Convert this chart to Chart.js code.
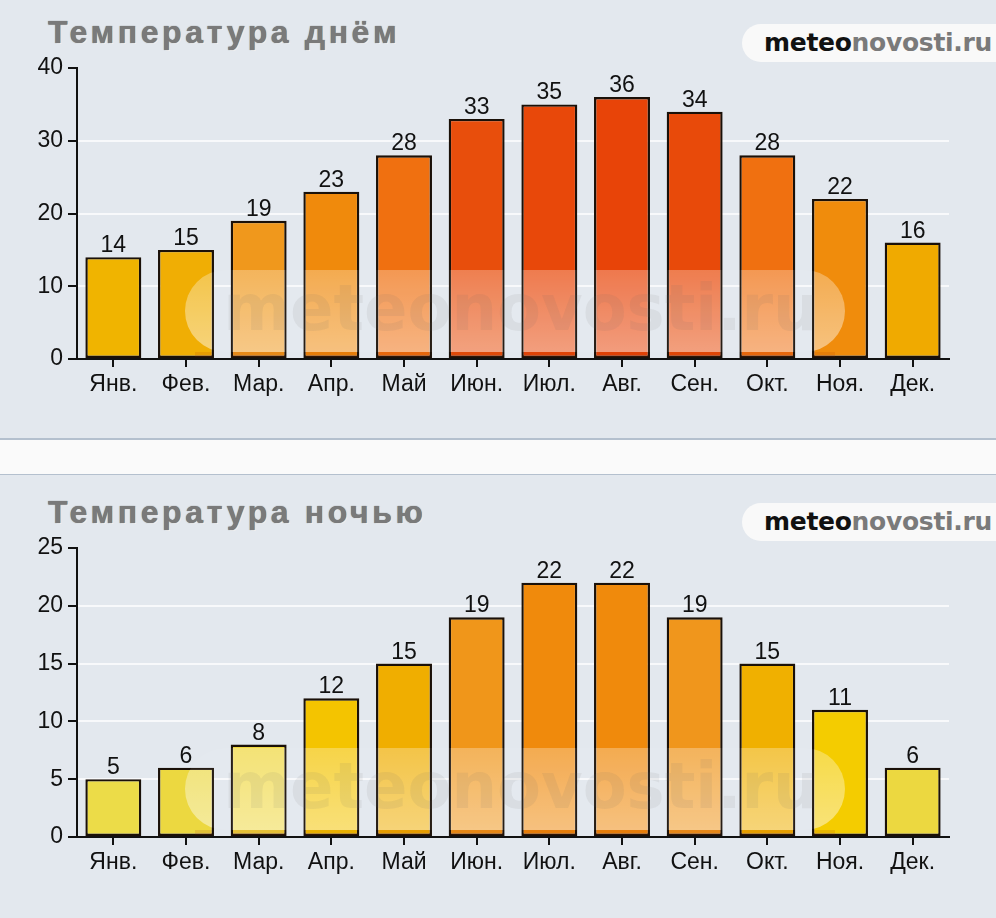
<!DOCTYPE html>
<html>
<head>
<meta charset="utf-8">
<script src="https://cdn.jsdelivr.net/npm/chart.js@4"></script>
<style>
  html, body { margin: 0; padding: 0; background: #e3e8ee; }
  body { width: 996px; height: 918px; position: relative; overflow: hidden; font-family: "Liberation Sans", Arial, sans-serif; }
  .panel { position: absolute; left: 0; width: 996px; background: #e3e8ee; }
  #dayPanel { top: 0; height: 438px; }
  #nightPanel { top: 475px; height: 443px; }
  .band { position: absolute; left: 0; top: 438px; width: 996px; height: 34px; background: #fafafa;
          border-top: 2px solid #b4c0ce; border-bottom: 2px solid #b4c0ce; }
  .title { position: absolute; left: 48px; font-size: 32px; line-height: 32px; font-weight: bold; color: #7a7a7a;
           letter-spacing: 3.6px; white-space: nowrap;
           text-shadow: 0 0 1px #555, 1px 1px 0 #f4f6f8; }
  .logo { position: absolute; left: 742px; width: 280px; height: 38px; border-radius: 19px; background: #f9f9f9;
          font-family: "DejaVu Sans", sans-serif; font-size: 25px; line-height: 38px; padding-left: 22px;
          box-sizing: border-box; white-space: nowrap; letter-spacing: -0.3px; }
  .logo b { color: #111; }
  .logo span { color: #7a7a7a; font-weight: bold; }
  canvas { position: absolute; left: 0; top: 0; }
</style>
</head>
<body>
<div class="panel" id="dayPanel">
  <div class="title" style="top:16px">Температура днём</div>
  <div class="logo" style="top:24px"><b>meteo</b><span>novosti.ru</span></div>
  <canvas id="dayChart" width="996" height="438"></canvas>
</div>
<div class="band"></div>
<div class="panel" id="nightPanel">
  <div class="title" style="top:21px">Температура ночью</div>
  <div class="logo" style="top:28px"><b>meteo</b><span>novosti.ru</span></div>
  <canvas id="nightChart" width="996" height="443"></canvas>
</div>
<script>
const months = ["Янв.", "Фев.", "Мар.", "Апр.", "Май", "Июн.", "Июл.", "Авг.", "Сен.", "Окт.", "Ноя.", "Дек."];
const dayTemps = [14, 15, 19, 23, 28, 33, 35, 36, 34, 28, 22, 16];
const nightTemps = [5, 6, 8, 12, 15, 19, 22, 22, 19, 15, 11, 6];
const dayTicks = [0, 10, 20, 30, 40];
const nightTicks = [0, 5, 10, 15, 20, 25];

// bar colours, warmer = hotter
const dayColors = ["#f0b400", "#f0ae04", "#f0981c", "#f08a0c", "#f07010", "#e84e0c",
                   "#e8480a", "#e84408", "#e84a0a", "#f07010", "#f08c0c", "#f0aa00"];
const nightColors = ["#ecdc48", "#ecd840", "#f0d840", "#f4c400", "#f0ae00", "#f0961a",
                     "#f08a0c", "#f08a0c", "#f0961c", "#f0b000", "#f4cc00", "#ecd840"];

Chart.defaults.font.family = "'Liberation Sans', Arial, sans-serif";
Chart.defaults.color = "#111";

// glossy pill + watermark over the lower part of the plot
const glossPlugin = {
  id: "gloss",
  afterDatasetsDraw(chart) {
    const { ctx, chartArea } = chart;
    const top = chartArea.bottom - 89, bottom = chartArea.bottom - 7;
    const left = chartArea.left + 108, right = chartArea.right - 104;
    const r = (bottom - top) / 2;
    const pill = () => {
      ctx.beginPath();
      ctx.moveTo(left + r, top);
      ctx.lineTo(right - r, top);
      ctx.arc(right - r, top + r, r, -Math.PI / 2, Math.PI / 2);
      ctx.lineTo(left + r, bottom);
      ctx.arc(left + r, top + r, r, Math.PI / 2, Math.PI * 1.5);
      ctx.closePath();
    };
    const bars = chart.getDatasetMeta(0).data;
    ctx.save();
    ctx.beginPath();
    bars.forEach(b => {
      const w = b.width;
      ctx.rect(b.x - w / 2 + 2, b.y + 2, w - 4, b.base - b.y - 3);
    });
    ctx.clip();
    pill();
    const g = ctx.createLinearGradient(0, top, 0, bottom);
    g.addColorStop(0, "rgba(255,255,255,0.24)");
    g.addColorStop(1, "rgba(255,255,255,0.44)");
    ctx.fillStyle = g;
    ctx.fill();
    ctx.fillStyle = "rgba(170,50,0,0.14)";
    ctx.fillRect(left + 10, bottom, right - left - 20, chartArea.bottom - bottom);
    ctx.restore();

    ctx.save();
    pill();
    ctx.fillStyle = "rgba(255,255,255,0.06)";
    ctx.fill();
    ctx.font = "bold 64px 'DejaVu Sans', sans-serif";
    ctx.fillStyle = "rgba(100,100,100,0.09)";
    ctx.textAlign = "center";
    ctx.textBaseline = "middle";
    ctx.fillText("meteonovosti.ru", (left + right) / 2 + 6, (top + bottom) / 2 + 2);
    ctx.restore();

    // value labels above bars
    ctx.save();
    ctx.font = "23px 'Liberation Sans', Arial, sans-serif";
    ctx.fillStyle = "#111";
    ctx.textAlign = "center";
    ctx.textBaseline = "alphabetic";
    const vals = chart.data.datasets[0].data;
    bars.forEach((b, i) => ctx.fillText(String(vals[i]), b.x, b.y - 5));
    ctx.restore();
  }
};

function makeChart(id, values, colors, ticks, padTop, padBottom) {
  const max = ticks[ticks.length - 1];
  return new Chart(document.getElementById(id), {
    type: "bar",
    data: {
      labels: months,
      datasets: [{
        data: values,
        backgroundColor: colors,
        borderColor: "#1a1008",
        borderWidth: 2.4,
        borderSkipped: false,
        categoryPercentage: 1,
        barPercentage: 0.77,
      }],
    },
    options: {
      responsive: false,
      animation: false,
      layout: { padding: { top: padTop, right: 47, bottom: padBottom, left: 0 } },
      plugins: { legend: { display: false }, tooltip: { enabled: false } },
      scales: {
        x: {
          grid: { offset: false, drawOnChartArea: false, color: "#111", lineWidth: 2, tickLength: 8 },
          border: { color: "#111", width: 2 },
          ticks: { font: { size: 23 }, padding: 4, color: "#111", maxRotation: 0 },
          afterFit(scale) { scale.height = 40; },
        },
        y: {
          min: 0,
          max: max,
          afterBuildTicks(scale) { scale.ticks = ticks.map(v => ({ value: v })); },
          grid: {
            color: c => (c.tick && (c.tick.value === 0 || c.tick.value === max) ? "rgba(0,0,0,0)" : "rgba(250,251,252,0.9)"),
            lineWidth: 2,
            tickColor: "#111",
            tickLength: 9,
          },
          border: { color: "#111", width: 2 },
          ticks: { font: { size: 23 }, padding: 5, color: "#111" },
          afterFit(scale) { scale.width = 77; },
        },
      },
    },
    plugins: [glossPlugin],
  });
}

makeChart("dayChart", dayTemps, dayColors, dayTicks, 68, 39);
makeChart("nightChart", nightTemps, nightColors, nightTicks, 73, 41);
</script>
</body>
</html>
